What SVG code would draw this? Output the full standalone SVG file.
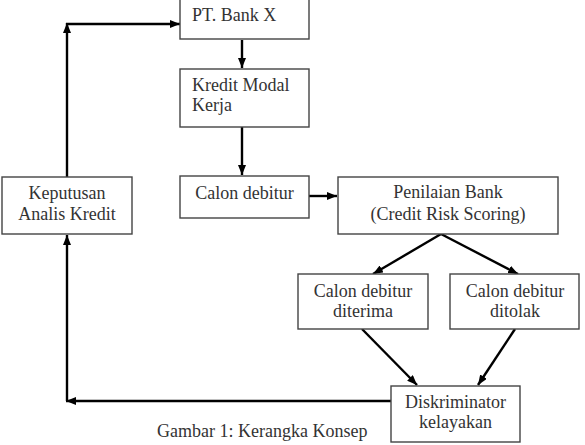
<svg xmlns="http://www.w3.org/2000/svg" width="585" height="445" viewBox="0 0 585 445">
<style>
.box{fill:#fff;stroke:#444;stroke-width:1.4}
.t{font-family:"Liberation Serif","Times New Roman",serif;font-size:18px;fill:#333}
.c{text-anchor:middle}
.ln{fill:none;stroke:#000;stroke-width:2.4}
</style>
<defs>
<marker id="ah" viewBox="0 0 10 8" refX="10" refY="4" markerWidth="10" markerHeight="8" markerUnits="userSpaceOnUse" orient="auto">
<path d="M0,0 L10,4 L0,8 Z" fill="#000"/>
</marker>
</defs>
<rect width="585" height="445" fill="#fff"/>
<g id="connectors">
<line class="ln" x1="242" y1="40" x2="242" y2="68" marker-end="url(#ah)"/>
<line class="ln" x1="242" y1="127" x2="242" y2="175" marker-end="url(#ah)"/>
<line class="ln" x1="309" y1="196" x2="337" y2="196" marker-end="url(#ah)"/>
<line class="ln" x1="441" y1="234" x2="373" y2="274" marker-end="url(#ah)"/>
<line class="ln" x1="441" y1="234" x2="518" y2="274" marker-end="url(#ah)"/>
<line class="ln" x1="362" y1="329" x2="417" y2="385" marker-end="url(#ah)"/>
<line class="ln" x1="515" y1="329" x2="478" y2="385" marker-end="url(#ah)"/>
<line class="ln" x1="391" y1="401" x2="66" y2="401" marker-end="url(#ah)"/>
<line class="ln" x1="67" y1="401" x2="67" y2="235" marker-end="url(#ah)"/>
<line class="ln" x1="67" y1="177" x2="67" y2="23" marker-end="url(#ah)"/>
<line class="ln" x1="66" y1="24" x2="180" y2="24" marker-end="url(#ah)"/>
</g>
<g id="bank">
<rect class="box" x="180" y="-2" width="129" height="41"/>
<text class="t" x="192" y="21">PT. Bank X</text>
</g>
<g id="kredit">
<rect class="box" x="180" y="69" width="129" height="58"/>
<text class="t" x="192" y="91">Kredit Modal</text>
<text class="t" x="192" y="111">Kerja</text>
</g>
<g id="calon">
<rect class="box" x="180" y="176" width="129" height="42"/>
<text class="t c" x="244.5" y="199">Calon debitur</text>
</g>
<g id="keputusan">
<rect class="box" x="2" y="177" width="130" height="57"/>
<text class="t c" x="67" y="199">Keputusan</text>
<text class="t c" x="67" y="220">Analis Kredit</text>
</g>
<g id="penilaian">
<rect class="box" x="338" y="177" width="220" height="57"/>
<text class="t c" x="448" y="198">Penilaian Bank</text>
<text class="t c" x="448" y="220">(Credit Risk Scoring)</text>
</g>
<g id="diterima">
<rect class="box" x="298" y="274" width="130" height="55"/>
<text class="t c" x="363" y="297">Calon debitur</text>
<text class="t c" x="363" y="317">diterima</text>
</g>
<g id="ditolak">
<rect class="box" x="450" y="274" width="129" height="55"/>
<text class="t c" x="515" y="297">Calon debitur</text>
<text class="t c" x="515" y="317">ditolak</text>
</g>
<g id="diskriminator">
<rect class="box" x="391" y="386" width="129" height="56"/>
<text class="t c" x="455.5" y="408">Diskriminator</text>
<text class="t c" x="455.5" y="428">kelayakan</text>
</g>
<text class="t" x="157" y="437">Gambar 1: Kerangka Konsep</text>
</svg>
